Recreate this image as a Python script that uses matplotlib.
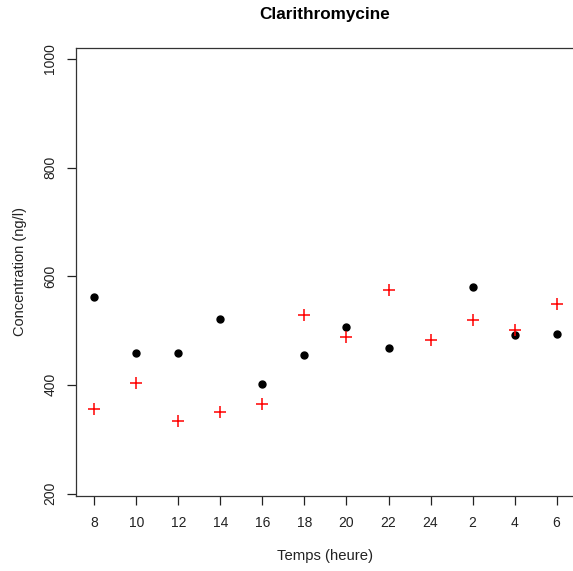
import matplotlib
matplotlib.use('Agg')
import matplotlib.pyplot as plt

# Données : heures de prélèvement et concentrations (ng/l)
heures = ["8", "10", "12", "14", "16", "18", "20", "22", "24", "2", "4", "6"]
serie_noire = [561, 459, 459, 522, 402, 455, 507, 468, None, 581, 492, 494]
serie_rouge = [355, 404, 333, 350, 365, 529, 488, 575, 483, 520, 501, 548]
y_ticks = [200, 400, 600, 800, 1000]

plt.rcParams['font.family'] = ['Liberation Sans', 'DejaVu Sans']

fig = plt.figure(figsize=(5.73, 5.71), dpi=100)
ax = fig.add_axes([0.1326, 0.1319, 0.8709, 0.7840])

pos = list(range(1, len(heures) + 1))
xn = [p for p, v in zip(pos, serie_noire) if v is not None]
yn = [v for v in serie_noire if v is not None]
ax.plot(xn, yn, linestyle='none', marker='o', markersize=5, color='black')
ax.plot(pos, serie_rouge, linestyle='none', marker='+', markersize=9,
        markeredgewidth=1.1, color='#ff0000')

ax.set_xlim(0.56, 12.44)
ax.set_ylim(196, 1020)
ax.set_xticks(pos)
ax.set_xticklabels(heures)
ax.set_yticks(y_ticks)
ax.set_yticklabels([str(t) for t in y_ticks], rotation=90, va='center')

ax.tick_params(direction='out', length=6.5, width=0.9, labelsize=10,
               colors='#222222', labelcolor='#222222')
ax.tick_params(axis='y', pad=7)
ax.tick_params(axis='x', pad=8)
for s in ax.spines.values():
    s.set_linewidth(0.9)
    s.set_color('#333333')

fig.text(0.567, 0.974, "Clarithromycine", ha='center', va='center',
         fontsize=12.3, fontweight='bold')
fig.text(0.567, 0.026, "Temps (heure)", ha='center', va='center', fontsize=10.7,
         color='#222222')
fig.text(0.035, 0.5245, "Concentration (ng/l)", ha='center', va='center',
         rotation=90, fontsize=10.5, color='#222222')

plt.savefig("out.png", dpi=100)
plt.close()
